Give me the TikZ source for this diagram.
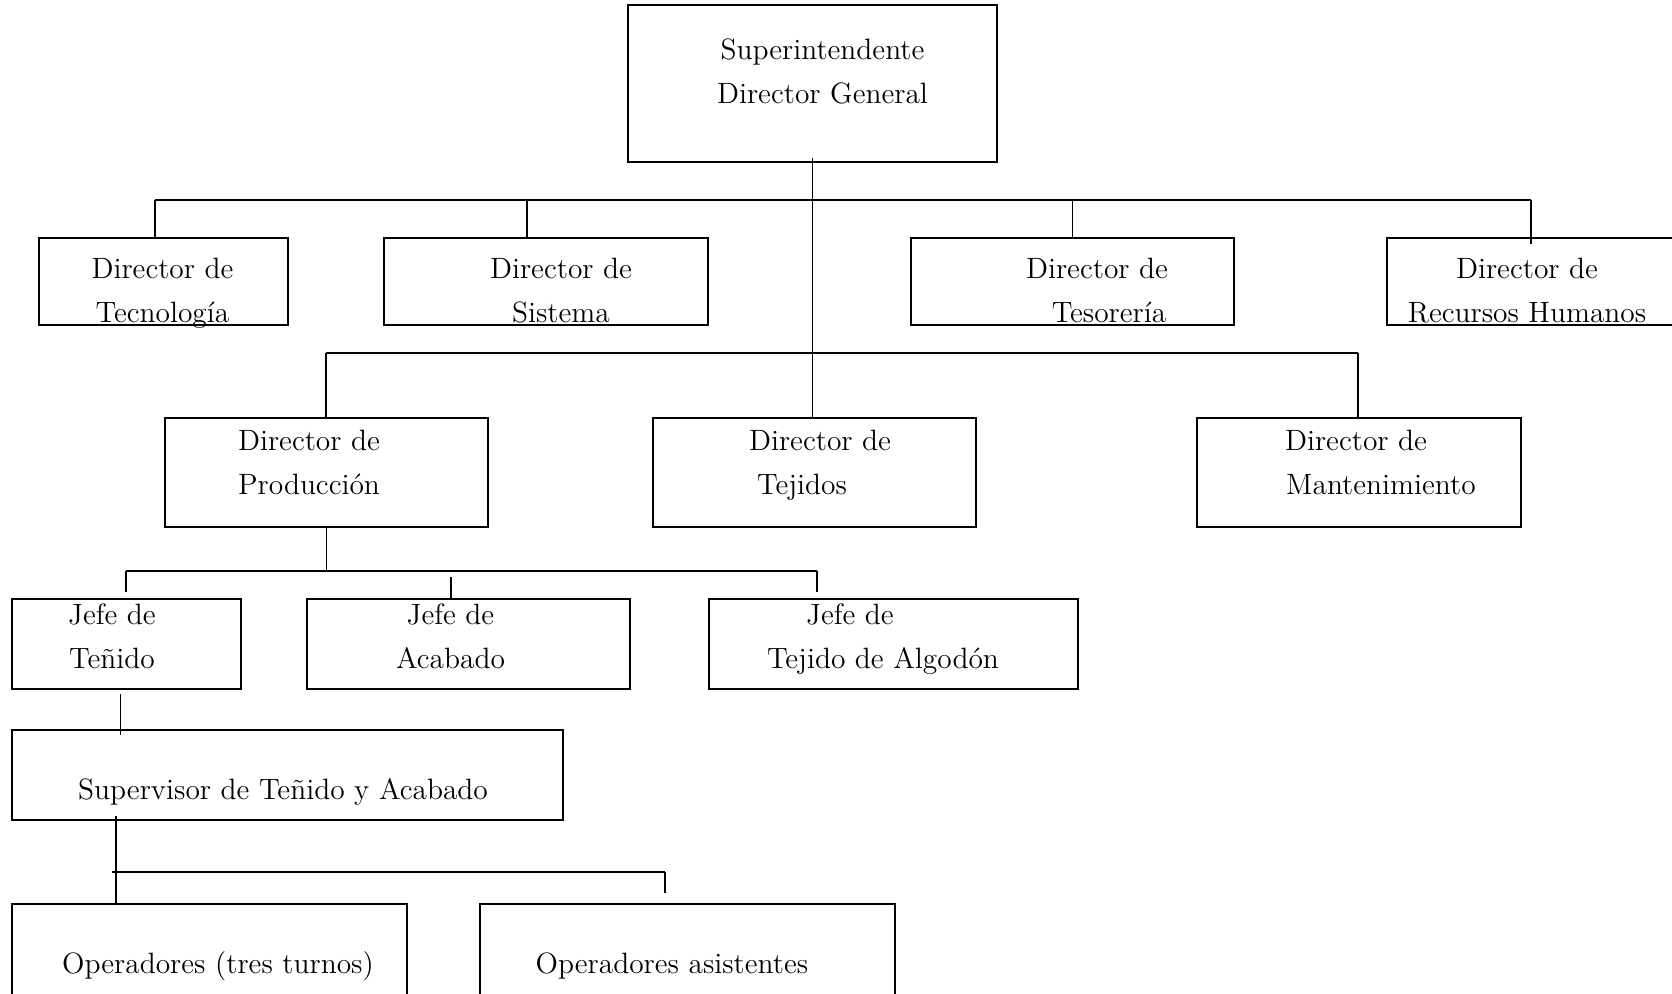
\documentclass[tikz,border=0pt]{standalone}
\usepackage{fontspec}
\usepackage{tikz}

\tikzset{
  box/.style={draw,line width=1pt,rectangle,inner sep=0pt},
  txt/.style={align=center,inner sep=0pt,font=\fontsize{14.7}{22}\selectfont,
    execute at begin node=\strut,execute at end node=\strut},
  conn/.style={line width=0.8pt},
}

\begin{document}
\begin{tikzpicture}[x=0.5pt,y=-0.5pt]
  \useasboundingbox (0,0) rectangle (1672,993);
  % top
  \node[box,minimum width=184.5pt,minimum height=78.5pt] (top) at (812.5,83.5) {};
  \node[txt] (topT) at (822.5,78) {Superintendente\\Director General};
  % first row
  \node[box,minimum width=124.5pt,minimum height=43.5pt] (tec) at (163.5,281.5) {};
  \node[box,minimum width=162pt,minimum height=43.5pt] (sis) at (546,281.5) {};
  \node[box,minimum width=161.5pt,minimum height=43.5pt] (tes) at (1072.5,281.5) {};
  \node[box,minimum width=161.5pt,minimum height=43.5pt] (rh) at (1548.5,281.5) {};
  \node[txt] (tecT) at (162.5,296.5) {Director de\\Tecnología};
  \node[txt] (sisT) at (561,296.5) {Director de\\Sistema};
  \node[txt] (tesT) at (1097,296.5) {Director de\\\hspace*{12pt}Tesorería};
  \node[txt] (rhT) at (1527,296.5) {Director de\\Recursos Humanos};
  % second row
  \node[box,minimum width=161.5pt,minimum height=54.5pt] (prod) at (326.5,472.5) {};
  \node[box,minimum width=161.5pt,minimum height=54.5pt] (tej) at (814.5,472.5) {};
  \node[box,minimum width=162pt,minimum height=54.5pt] (mant) at (1359,472.5) {};
  \node[txt] (prodT) at (309,469) {Director de\\Producción};
  \node[txt] (tejT) at (820,469) {Director de\\Tejidos\hspace*{18pt}};
  \node[txt] (mantT) at (1356,469) {Director de\\\hspace*{25pt}Mantenimiento};
  % jefes
  \node[box,minimum width=114.5pt,minimum height=45pt] (ten) at (126.5,644) {};
  \node[box,minimum width=161.5pt,minimum height=45pt] (aca) at (468.5,644) {};
  \node[box,minimum width=184.5pt,minimum height=45pt] (alg) at (893.5,644) {};
  \node[txt] (tenT) at (112,643) {Jefe de\\Teñido};
  \node[txt] (acaT) at (450.5,643) {Jefe de\\Acabado};
  \node[txt] (algT) at (850,643) {Jefe de\\\hspace*{33pt}Tejido de Algodón};
  % supervisor and operators
  \node[box,minimum width=275.5pt,minimum height=45pt] (sup) at (287.5,775) {};
  \node[txt] (supT) at (283,790.5) {Supervisor de Teñido y Acabado};
  \node[box,minimum width=197.5pt,minimum height=53pt] (op1) at (209.5,957) {};
  \node[box,minimum width=207.5pt,minimum height=53pt] (op2) at (687.5,957) {};
  \node[txt] (op1T) at (218,964.5) {Operadores (tres turnos)};
  \node[txt] (op2T) at (672,964.5) {Operadores asistentes};

  % trunk and buses
  \coordinate (b1w) at (155,200);
  \coordinate (b1e) at (1531,200);
  \coordinate (b2w) at (326,353);
  \coordinate (b2e) at (1358,353);
  \coordinate (b3w) at (126,571);
  \coordinate (b3e) at (817,571);
  \coordinate (b4w) at (112,872);
  \coordinate (b4e) at (665,872);
  \draw[conn] ([yshift=2.5pt]top.south) -- (top.south |- tej.north);
  \draw[conn] (b1w) -- (b1e);
  \draw[conn] (b1w) -- (b1w |- tec.north);
  \draw[conn] ([xshift=-9.5pt]sis.north) -- ([xshift=-9.5pt]sis.north |- b1w);
  \draw[conn] (tes.north) -- (tes.north |- b1w);
  \draw[conn] (b1e) -- ([yshift=-3.5pt]b1e |- rh.north);
  \draw[conn] (b2w) -- (b2e);
  \draw[conn] (b2w) -- (b2w |- prod.north);
  \draw[conn] (b2e) -- (b2e |- mant.north);
  % production
  \draw[conn] (prod.south) -- (prod.south |- b3w);
  \draw[conn] (b3w) -- (b3e);
  \draw[conn] (b3w) -- ([yshift=3pt]b3w |- ten.north);
  \draw[conn] ([xshift=-8.75pt,yshift=-1pt]aca.north) -- ([xshift=-8.75pt,yshift=10.5pt]aca.north);
  \draw[conn] (b3e) -- ([yshift=3pt]b3e |- alg.north);
  \draw[conn] ([xshift=-3pt,yshift=-2pt]ten.south) -- ([xshift=-3pt,yshift=-3pt]ten.south |- sup.north);
  % operators
  \draw[conn] ([xshift=-85.75pt,yshift=2.5pt]sup.south) -- ([xshift=-85.75pt]sup.south |- op1.north);
  \draw[conn] (b4w) -- (b4e);
  \draw[conn] (b4e) -- ([yshift=5pt]b4e |- op2.north);
\end{tikzpicture}
\end{document}
